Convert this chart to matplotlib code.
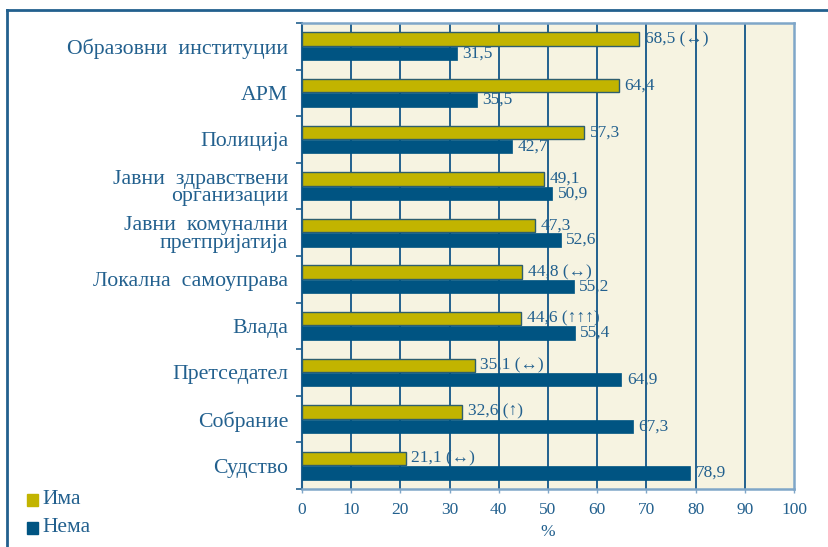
import matplotlib as mpl
mpl.use('Agg')
import matplotlib.pyplot as plt
from matplotlib.lines import Line2D
from matplotlib.ticker import FixedLocator
import numpy as np

categories = ['Образовни  институции', 'АРМ', 'Полиција',
              'Јавни  здравствени\nорганизации', 'Јавни  комунални\nпретпријатија',
              'Локална  самоуправа', 'Влада', 'Претседател', 'Собрание', 'Судство']
ima = [68.5, 64.4, 57.3, 49.1, 47.3, 44.8, 44.6, 35.1, 32.6, 21.1]
nema = [31.5, 35.5, 42.7, 50.9, 52.6, 55.2, 55.4, 64.9, 67.3, 78.9]
ima_notes = ['(↔)', '', '', '', '', '(↔)', '(↑↑↑)', '(↔)', '(↑)', '(↔)']
series_names = ['Има', 'Нема']
xticks = [0, 10, 20, 30, 40, 50, 60, 70, 80, 90, 100]

c_ima = '#C2B400'
c_nema = '#005482'
c_text = '#22608E'
c_bg = '#F6F3E1'
c_light = '#7FA6C8'
fam = ['Liberation Serif', 'DejaVu Serif']
plt.rcParams['font.family'] = fam

fig = plt.figure(figsize=[8.29, 5.47], dpi=100)
ax = fig.add_axes([302/829, 1-489/547, 492/829, 466/547])
ax.set_facecolor(c_bg)

y = np.arange(len(categories))
h = 0.29
ax.barh(y - 0.155, ima, height=h, color=c_ima, edgecolor='#2E5E6E', linewidth=1.0, zorder=3)
ax.barh(y + 0.155, nema, height=h, color=c_nema, edgecolor=c_nema, linewidth=0.5, zorder=3)

for i in range(len(categories)):
    lab = f'{ima[i]:.1f}'.replace('.', ',')
    if ima_notes[i]:
        lab += ' ' + ima_notes[i]
    ax.annotate(lab, (ima[i], y[i] - 0.155), xytext=(4, 0), textcoords='offset points',
                va='center', ha='left', fontsize=12.5, color=c_text, zorder=4)
    ax.annotate(f'{nema[i]:.1f}'.replace('.', ','), (nema[i], y[i] + 0.155), xytext=(4, 0),
                textcoords='offset points', va='center', ha='left', fontsize=12.5, color=c_text, zorder=4)

ax.set_xlim(0, 100)
ax.set_ylim(len(categories) - 0.5, -0.5)
ax.set_xticks(xticks)
ax.set_yticks(y)
ax.set_yticklabels(categories, fontsize=15.7, color=c_text, linespacing=0.9)
ax.yaxis.set_minor_locator(FixedLocator(np.arange(-0.5, len(categories), 1)))
ax.tick_params(axis='y', which='major', length=0, pad=10)
ax.tick_params(axis='y', which='minor', length=4, width=1.2, color=c_text)
ax.tick_params(axis='x', length=3, width=1, color=c_light, labelsize=12.5, labelcolor=c_text, pad=6)
for v in xticks[1:-1]:
    ax.axvline(v, color=c_text, lw=1.4, zorder=1)

ax.spines['left'].set_color(c_text)
ax.spines['left'].set_linewidth(1.5)
for s in ['top', 'right', 'bottom']:
    ax.spines[s].set_color(c_light)
    ax.spines[s].set_linewidth(1.8)

ax.set_xlabel('%', fontsize=12.5, color=c_text, labelpad=5)

# legend in lower left corner
for k, (name, col) in enumerate(zip(series_names, [c_ima, c_nema])):
    yy = 1 - (500 + 28*k)/547
    fig.patches.append(plt.Rectangle((27/829, yy - 6/547), 11/829, 12/547,
                                     transform=fig.transFigure, color=col, figure=fig))
    fig.text(42/829, yy, name, fontsize=15.5, color=c_text, va='center', ha='left')

# frame
fig.add_artist(Line2D([7/829, 7/829], [0, 1-10/547], transform=fig.transFigure, color=c_text, lw=2))
fig.add_artist(Line2D([7/829, 1], [1-10/547, 1-10/547], transform=fig.transFigure, color=c_text, lw=2))

plt.savefig('out.png', dpi=100)
plt.close(fig)
